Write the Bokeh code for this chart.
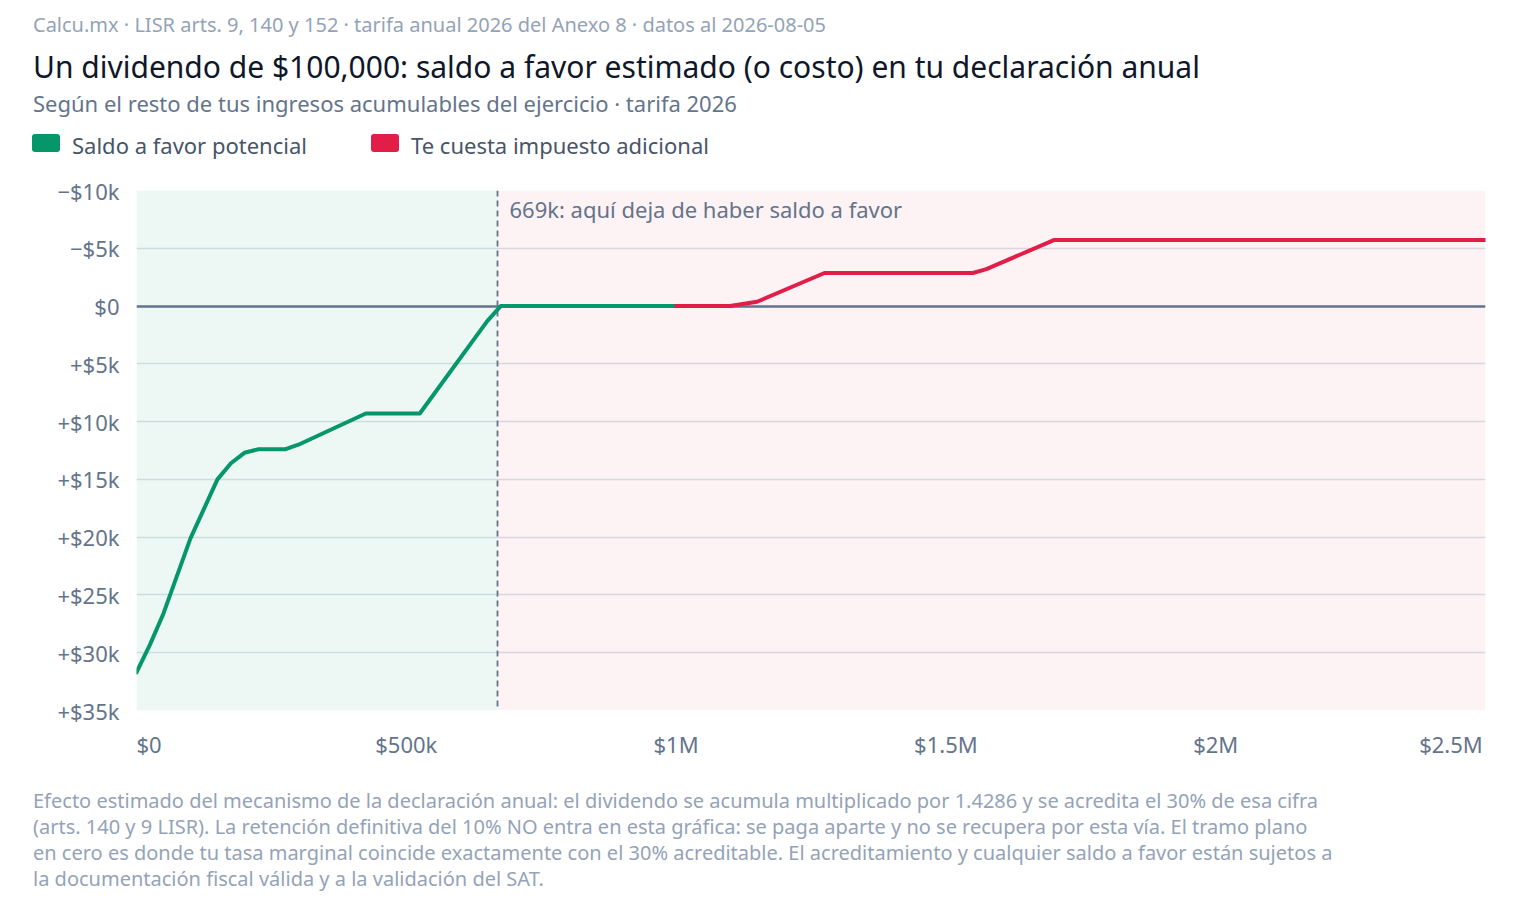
import html
from bokeh.plotting import figure
from bokeh.layouts import column
from bokeh.models import Range1d, FixedTicker, Label, BoxAnnotation, Div
from bokeh.embed import file_html
from bokeh.resources import INLINE

# ---------------- data ----------------
green_income = [0, 25000, 50000, 100000, 150000, 175000, 200000, 225000, 275000,
                300000, 425000, 525000, 650000, 675000, 1000000]
green_saldo = [31700, 29300, 26600, 20100, 15000, 13600, 12700, 12400, 12400,
               12000, 9300, 9300, 1300, 0, 0]
red_income = [1000000, 1100000, 1150000, 1275000, 1550000, 1575000, 1700000, 2500000]
red_saldo = [0, 0, -370, -2860, -2860, -3200, -5710, -5710]
threshold = 669000
x_max = 2500000
x_ticks = [0, 500000, 1000000, 1500000, 2000000, 2500000]
x_tick_labels = ["$0", "$500k", "$1M", "$1.5M", "$2M", "$2.5M"]
y_ticks = [-10000, -5000, 0, 5000, 10000, 15000, 20000, 25000, 30000, 35000]
y_tick_labels = ["\u2212$10k", "\u2212$5k", "$0", "+$5k", "+$10k", "+$15k",
                 "+$20k", "+$25k", "+$30k", "+$35k"]

source_text = "Calcu.mx \u00b7 LISR arts. 9, 140 y 152 \u00b7 tarifa anual 2026 del Anexo 8 \u00b7 datos al 2026-08-05"
title_text = "Un dividendo de $100,000: saldo a favor estimado (o costo) en tu declaraci\u00f3n anual"
subtitle_text = "Seg\u00fan el resto de tus ingresos acumulables del ejercicio \u00b7 tarifa 2026"
legend_labels = ["Saldo a favor potencial", "Te cuesta impuesto adicional"]
annotation_text = "669k: aqu\u00ed deja de haber saldo a favor"
footnote_lines = [
    "Efecto estimado del mecanismo de la declaraci\u00f3n anual: el dividendo se acumula multiplicado por 1.4286 y se acredita el 30% de esa cifra",
    "(arts. 140 y 9 LISR). La retenci\u00f3n definitiva del 10% NO entra en esta gr\u00e1fica: se paga aparte y no se recupera por esta v\u00eda. El tramo plano",
    "en cero es donde tu tasa marginal coincide exactamente con el 30% acreditable. El acreditamiento y cualquier saldo a favor est\u00e1n sujetos a",
    "la documentaci\u00f3n fiscal v\u00e1lida y a la validaci\u00f3n del SAT.",
]

# ---------------- styles ----------------
GREEN = "#059669"
RED = "#e11d48"
SLATE = "#64748b"
FONT = "Noto Sans"
PAGE_W = 1520
HEADER_H = 170
MAIN_H = 600
FOOTER_H = 126


def abs_text(txt, left, top, size, color):
    return (f'<div style="position:absolute;left:{left}px;top:{top}px;font-size:{size}px;'
            f'line-height:{size}px;color:{color};white-space:nowrap;margin:0;padding:0;">'
            f'{html.escape(txt)}</div>')


def abs_box(left, top, w, h, color):
    return (f'<div style="position:absolute;left:{left}px;top:{top}px;width:{w}px;height:{h}px;'
            f'background:{color};border-radius:3px;"></div>')


# ---------------- header ----------------
legend_colors = [GREEN, RED]
legend_box_x = [32, 371]
legend_text_x = [72, 411]
parts = [abs_text(source_text, 33, 15, 20, "#94a3b8"),
         abs_text(title_text, 33, 52, 30, "#0f172a"),
         abs_text(subtitle_text, 33, 92, 22, SLATE)]
for lab, col, bx, tx in zip(legend_labels, legend_colors, legend_box_x, legend_text_x):
    parts.append(abs_box(bx, 134, 28, 18, col))
    parts.append(abs_text(lab, tx, 134, 22, "#475569"))
header_html = (f'<div style="position:relative;width:{PAGE_W}px;height:{HEADER_H}px;'
               f'font-family:\'{FONT}\';margin:0;padding:0;">' + "".join(parts) + '</div>')
header = Div(text=header_html, width=PAGE_W, height=HEADER_H, margin=0)

# ---------------- main chart ----------------
p = figure(width=PAGE_W, height=MAIN_H, output_backend="svg", toolbar_location=None,
           x_range=Range1d(0, x_max), y_range=Range1d(35000, -10000),
           min_border_left=136, min_border_right=35, min_border_top=20,
           min_border_bottom=60, margin=0)
p.outline_line_color = None
p.background_fill_color = "white"
p.border_fill_color = "white"

for ax in (p.xaxis[0], p.yaxis[0]):
    ax.axis_line_color = None
    ax.major_tick_line_color = None
    ax.minor_tick_line_color = None
    ax.major_label_text_font = FONT
    ax.major_label_text_font_size = "22px"
    ax.major_label_text_color = SLATE

# first and last x labels are padded so they sit inside the plot edges
x_label_display = list(x_tick_labels)
x_label_display[0] = "\u2007\u2007" + x_label_display[0]
x_label_display[-1] = x_label_display[-1] + "\u2007\u2007\u2007"
p.xaxis[0].ticker = FixedTicker(ticks=x_ticks)
p.xaxis[0].major_label_overrides = dict(zip(x_ticks, x_label_display))
p.xaxis[0].major_label_standoff = 12
p.yaxis[0].ticker = FixedTicker(ticks=y_ticks)
p.yaxis[0].major_label_overrides = dict(zip(y_ticks, y_tick_labels))
p.yaxis[0].major_label_standoff = 11

p.xgrid.grid_line_color = None
p.ygrid.grid_line_color = "#dbe2ea"
p.ygrid.grid_line_width = 1.5

p.add_layout(BoxAnnotation(left=0, right=threshold, fill_color=GREEN, fill_alpha=0.07,
                           line_color=None, level="underlay"))
p.add_layout(BoxAnnotation(left=threshold, right=x_max, fill_color=RED, fill_alpha=0.06,
                           line_color=None, level="underlay"))

p.hspan(y=[0], line_color=SLATE, line_width=2.5)
p.vspan(x=[threshold], line_color=SLATE, line_width=1.8, line_dash="6 4")

p.line(green_income, green_saldo, line_color=GREEN, line_width=4,
       line_join="round", line_cap="round")
p.line(red_income, red_saldo, line_color=RED, line_width=4,
       line_join="round", line_cap="round")

p.add_layout(Label(x=threshold, y=-10000, x_offset=12, y_offset=-18, text=annotation_text,
                   text_font=FONT, text_font_size="22px", text_color=SLATE,
                   text_align="left", text_baseline="middle"))

# ---------------- footer ----------------
foot_body = "<br>".join(html.escape(line) for line in footnote_lines)
footer_html = (f'<div style="position:relative;width:{PAGE_W}px;height:{FOOTER_H}px;margin:0;'
               f'padding:0;font-family:\'{FONT}\';">'
               f'<div style="position:absolute;left:33px;top:18px;font-size:20px;line-height:26px;'
               f'color:#94a3b8;white-space:nowrap;">{foot_body}</div></div>')
footer = Div(text=footer_html, width=PAGE_W, height=FOOTER_H, margin=0)

layout = column(header, p, footer, spacing=0)
open("out.html", "w").write(file_html(layout, INLINE))
